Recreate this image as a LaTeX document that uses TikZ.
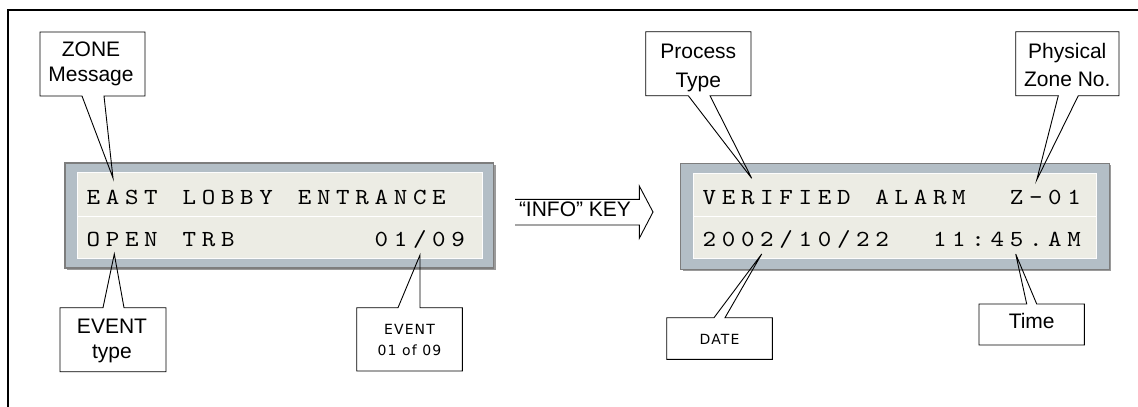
\documentclass[tikz,border=0pt]{standalone}
\usepackage{fontspec}
\setmainfont{Liberation Sans}
\newfontfamily\smallsans[LetterSpace=8]{DejaVu Sans}
\newfontfamily\lcdfont{lmmono10-regular}[Extension=.otf, FakeStretch=1.12]
\definecolor{lcdframe}{HTML}{B3BEC6}
\definecolor{lcdpanel}{HTML}{ECECE4}
\definecolor{lcdedge}{HTML}{7D7D7D}
\definecolor{lcdshadow}{HTML}{9A9A9A}
\makeatletter
\newcommand\lcdchars[1]{\@tfor\lcd@c:=#1\do{\makebox[19.2pt][c]{\lcd@c}}}
\makeatother
\tikzset{
  outerframe/.style={line width=1.3pt, line cap=rect},
  bubble/.style={draw=black, line width=0.9pt, line join=miter},
  lbl/.style={inner sep=0pt, anchor=base, font=\fontsize{21}{24}\selectfont},
  smalllbl/.style={inner sep=0pt, anchor=base, font=\smallsans\fontsize{14}{16}\selectfont},
  lcdtxt/.style={inner sep=0pt, anchor=base west, font=\lcdfont\fontsize{23}{23}\selectfont, text=black},
  lcdouter/.style={fill=lcdframe, draw=lcdedge, line width=1.2pt},
  lcdinner/.style={fill=lcdpanel, draw=white!92!lcdpanel, line width=1pt},
  divider/.style={draw=white, line width=1.2pt},
  blockarrow/.style={draw=black, line width=0.9pt, line join=miter},
}
\begin{document}
\begin{tikzpicture}[x=1pt,y=-1pt]
\useasboundingbox (0,0) rectangle (1138,407);
% outer frame (only top and left visible)
\draw[outerframe] (8,407) -- (8,10) -- (1138,10);

% ---------- left LCD ----------
\fill[lcdshadow] (67,165) rectangle (495.6,270);
\draw[lcdouter] (65,163) rectangle (493.6,268);
\draw[lcdinner] (77.5,172.5) rectangle (482,258);
\draw[divider] (78,216.5) -- (481.5,216.5);
\node[lcdtxt] (l1) at (83.6,204) {\lcdchars{EAST~LOBBY~ENTRANCE}};
\node[lcdtxt] (l2) at (83.6,246) {\lcdchars{OPEN~TRB~~~~~~~01/09}};

% ---------- right LCD ----------
\fill[lcdshadow] (682.7,165.3) rectangle (1111.3,271.3);
\draw[lcdouter] (680.7,163.3) rectangle (1109.3,269.3);
\draw[lcdinner] (693.3,173.3) rectangle (1096.7,258.7);
\draw[divider] (693.8,216.8) -- (1096.2,216.8);
\node[lcdtxt] (r1) at (699.6,204.5) {\lcdchars{VERIFIED~ALARM~~Z-01}};
\node[lcdtxt] (r2) at (699.6,246) {\lcdchars{2002/10/22~~11:45.AM}};

% ---------- block arrow ----------
\coordinate (as1) at (515,199.3);
\coordinate (as2) at (515,225);
\draw[blockarrow] (as1) -- (639.3,199.3) -- (639.3,186) -- (653,212)
   -- (639.3,238.3) -- (639.3,225) -- (as2);
\node[lbl] (key) at (575,216.7) {“INFO” KEY};

% ---------- callouts ----------
% ZONE Message
\coordinate (tipzone) at (113,178);
\draw[bubble] (40,32) -- (145,32) -- (145,96) -- (104,96) -- (tipzone)
   -- (82,96) -- (40,96) -- cycle;
\node[lbl] (zone1) at (91,56) {ZONE};
\node[lbl] (zone2) at (91,81) {Message};

% EVENT type
\coordinate (tipevt) at (114.3,254);
\draw[bubble] (60,307.7) -- (103,307.7) -- (tipevt) -- (124,307.7)
   -- (166,307.7) -- (166,371.7) -- (60,371.7) -- cycle;
\node[lbl] (evt1) at (112,333.3) {EVENT};
\node[lbl] (evt2) at (112,358.3) {type};

% EVENT 01 of 09
\coordinate (tipcnt) at (420,255);
\draw[bubble] (356.7,307.7) -- (398,307.7) -- (tipcnt) -- (420,307.7)
   -- (462.3,307.7) -- (462.3,371) -- (356.7,371) -- cycle;
\node[smalllbl] (cnt1) at (409.5,334) {EVENT};
\node[smalllbl] (cnt2) at (409.5,355) {01 of 09};

% Process Type
\coordinate (tipproc) at (751.7,178.3);
\draw[bubble] (645.7,31.7) -- (751,31.7) -- (751,95.7) -- (710,95.7)
   -- (tipproc) -- (688.3,95.7) -- (645.7,95.7) -- cycle;
\node[lbl] (proc1) at (698.3,58.3) {Process};
\node[lbl] (proc2) at (698.3,87) {Type};

% Physical Zone No.
\coordinate (tipphys) at (1036.7,180);
\draw[bubble] (1015.7,31.7) -- (1119,31.7) -- (1119,95.7) -- (1078.3,95.7)
   -- (tipphys) -- (1058.3,95.7) -- (1015.7,95.7) -- cycle;
\node[lbl] (phys1) at (1067.3,58.3) {Physical};
\node[lbl] (phys2) at (1067.3,86) {Zone No.};

% DATE
\coordinate (tipdate) at (761.7,254);
\draw[bubble] (666.7,317.7) -- (714,317.7) -- (tipdate) -- (725,317.7)
   -- (772.3,317.7) -- (772.3,359.3) -- (666.7,359.3) -- cycle;
\node[smalllbl] (date) at (719.5,344) {DATE};

% Time
\coordinate (tiptime) at (1015.7,254);
\draw[bubble] (979,304) -- (1026.7,304) -- (tiptime) -- (1036.7,304)
   -- (1084.3,304) -- (1084.3,345) -- (979,345) -- cycle;
\node[lbl] (time) at (1031.7,328.3) {Time};
\end{tikzpicture}
\end{document}
